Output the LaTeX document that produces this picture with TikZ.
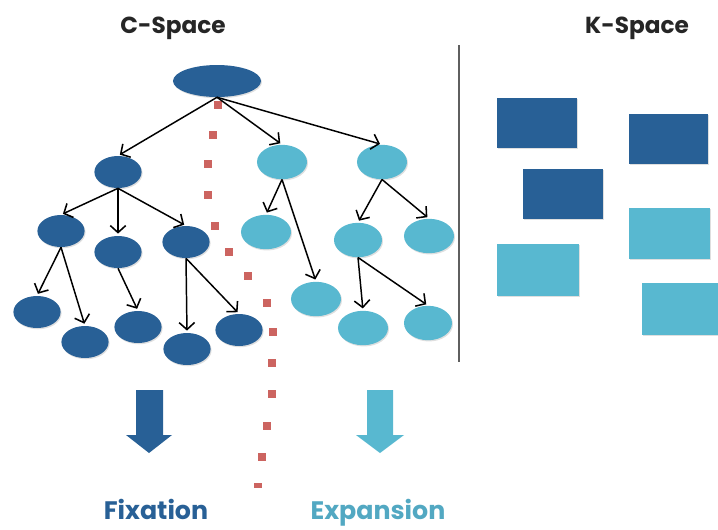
\documentclass[tikz,border=0pt]{standalone}
\usepackage{fontspec}
\setmainfont{Poppins}
\usetikzlibrary{shapes.geometric,arrows.meta,shadows}
\definecolor{darkblue}{RGB}{40,96,150}
\definecolor{lightblue}{RGB}{88,184,208}
\definecolor{labelblue}{RGB}{82,168,194}
\definecolor{dotred}{RGB}{204,100,96}
\definecolor{sepgray}{RGB}{95,95,95}

\begin{document}
\begin{tikzpicture}[x=0.025cm,y=-0.025cm,
  softshadow/.style={drop shadow={opacity=0.25,shadow xshift=0.7pt,shadow yshift=-0.9pt}},
  darknode/.style={ellipse,fill=darkblue,inner sep=0pt,minimum width=1.18cm,minimum height=0.8cm,softshadow},
  lightnode/.style={ellipse,fill=lightblue,inner sep=0pt,minimum width=1.25cm,minimum height=0.86cm,softshadow},
  link/.style={-{Straight Barb[length=5pt,width=11pt,line width=1.1pt]},line width=1.05pt,black,shorten >=1.5pt},
  title/.style={font=\bfseries\fontsize{16.5}{18}\selectfont,text=black!85},
  label/.style={font=\bfseries\fontsize{18}{20}\selectfont,inner sep=0pt,anchor=base}]
\useasboundingbox (0,0) rectangle (718,529);

\node[title] (cspace) at (173,28) {C-Space};
\node[title] (kspace) at (637,28) {K-Space};

\foreach \x/\y in {218/105,213/135,208/164,208/195,215/226,229/252,248/276,267/303,273/332,272/363,272/394,267/426,262/457}
  \fill[dotred] (\x-4,\y-4) rectangle (\x+4,\y+4);
\fill[dotred] (254,483) rectangle (262,487.5);

\node[darknode,minimum width=2.2cm] (root) at (217,81) {};
\node[darknode] (f1) at (118,172) {};
\node[lightnode] (e1) at (282,162) {};
\node[lightnode] (e2) at (382,162) {};
\node[darknode] (fa) at (61,231) {};
\node[darknode] (fb) at (118,252) {};
\node[darknode] (fc) at (186,242) {};
\node[lightnode] (ea) at (266,232) {};
\node[lightnode,minimum width=1.2cm] (eb) at (358,240) {};
\node[lightnode] (ec) at (429,236) {};
\node[darknode] (fa1) at (37,312) {};
\node[darknode] (fa2) at (85,342) {};
\node[darknode] (fb1) at (138,327) {};
\node[darknode] (fc1) at (187,349) {};
\node[darknode] (fc2) at (239,330) {};
\node[lightnode] (ea1) at (316,299) {};
\node[lightnode] (eb1) at (363,328) {};
\node[lightnode,minimum width=1.2cm] (eb2) at (428,323) {};

\draw[link] (root.south) -- (f1.north);
\draw[link] (root.south) -- (e1.north);
\draw[link] (root.south) -- (e2.north);
\draw[link] (f1.south) -- (fa.north);
\draw[link] (f1.south) -- (fb.north);
\draw[link] (f1.south) -- (fc.north);
\draw[link] (fa.south) -- (fa1.north);
\draw[link] (fa.south) -- (fa2.north);
\draw[link] (fb.south) -- (fb1.north);
\draw[link] (fc.south) -- (fc1.north);
\draw[link] (fc.south) -- (fc2.north);
\draw[link] (e1.south) -- (ea.north);
\draw[link] (e1.south) -- (ea1.north);
\draw[link] (e2.south) -- (eb.north);
\draw[link] (e2.south) -- (ec.north);
\draw[link] (eb.south) -- (eb1.north);
\draw[link] (eb.south) -- (eb2.north);

\draw[sepgray,line width=0.9pt] (459,45) -- (459,362);

\fill[darkblue,softshadow] (497,98) rectangle (577,148);
\fill[darkblue,softshadow] (629,114) rectangle (708,164);
\fill[darkblue,softshadow] (523,169) rectangle (603,219);
\fill[lightblue,softshadow] (629,208) rectangle (710,259);
\fill[lightblue,softshadow] (497,244) rectangle (579,296);
\fill[lightblue,softshadow] (642,283) rectangle (718,335);

\fill[darkblue] (136,390) -- (163,390) -- (163,435) -- (172,435) -- (149,453) -- (126,435) -- (136,435) -- cycle;
\fill[lightblue] (367,390) -- (393,390) -- (393,435) -- (404,435) -- (380,453) -- (356,435) -- (367,435) -- cycle;

\node[label,text=darkblue] (fixation) at (156,519) {Fixation};
\node[label,text=labelblue] (expansion) at (378,519) {Expansion};
\end{tikzpicture}
\end{document}
